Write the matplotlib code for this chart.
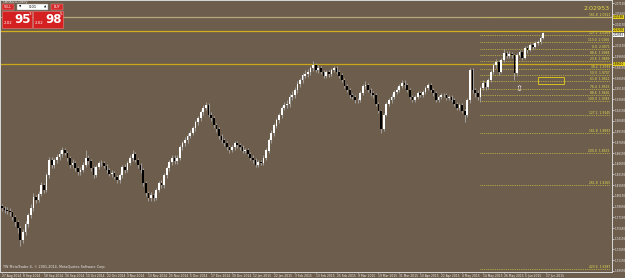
import matplotlib
matplotlib.use('Agg')
import numpy as np
from matplotlib import pyplot as plt
from matplotlib.patches import Rectangle

# GBPAUD daily, 27 Aug 2014 .. 16 Jun 2015 (open = previous close)
first_open = 1.7870
closes = [
    1.7845, 1.7820, 1.7800, 1.7789, 1.7720, 1.7649, 1.7560, 1.7397,
    1.7509, 1.7620, 1.7747, 1.7850, 1.7999, 1.7960, 1.8040,
    1.8167, 1.8100, 1.8300, 1.8517, 1.8450, 1.8517, 1.8560, 1.8600,
    1.8657, 1.8620, 1.8540, 1.8447, 1.8480, 1.8400, 1.8349, 1.8380, 1.8450,
    1.8545, 1.8500, 1.8400, 1.8307, 1.8420, 1.8480, 1.8475, 1.8430, 1.8380,
    1.8321, 1.8340, 1.8280, 1.8237, 1.8300, 1.8420, 1.8377, 1.8470, 1.8550,
    1.8600, 1.8520, 1.8450, 1.8380, 1.8200, 1.8050, 1.7985, 1.8030,
    1.7985, 1.8100, 1.8200, 1.8167, 1.8300, 1.8400, 1.8489, 1.8550, 1.8500,
    1.8545, 1.8700, 1.8750, 1.8797, 1.8850, 1.8900, 1.8965, 1.9050, 1.9100, 1.9189, 1.9250,
    1.9287, 1.9150, 1.9100, 1.9007, 1.8950, 1.8850, 1.8797, 1.8750, 1.8700, 1.8657, 1.8700, 1.8750,
    1.8727, 1.8700, 1.8650, 1.8657, 1.8600, 1.8550, 1.8517, 1.8450, 1.8489, 1.8475, 1.8550, 1.8650,
    1.8797, 1.8900, 1.9000, 1.9077, 1.9150, 1.9250, 1.9287, 1.9300, 1.9400, 1.9427, 1.9500, 1.9580,
    1.9637, 1.9700, 1.9720, 1.9749, 1.9800, 1.9847, 1.9780, 1.9805, 1.9750, 1.9700, 1.9749, 1.9720,
    1.9780, 1.9805, 1.9750, 1.9700, 1.9637, 1.9550, 1.9500, 1.9427, 1.9400, 1.9350, 1.9357, 1.9450,
    1.9550, 1.9567, 1.9500, 1.9450, 1.9427, 1.9300, 1.9200, 1.8950, 1.9150, 1.9300, 1.9357, 1.9400,
    1.9469, 1.9500, 1.9550, 1.9600, 1.9567, 1.9500, 1.9400, 1.9357, 1.9400, 1.9450, 1.9427, 1.9469,
    1.9520, 1.9567, 1.9500, 1.9450, 1.9357, 1.9400, 1.9430, 1.9427, 1.9380, 1.9400, 1.9357, 1.9300,
    1.9250, 1.9287, 1.9200, 1.9147, 1.9357, 1.9777, 1.9497, 1.9450, 1.9400, 1.9525, 1.9595, 1.9539,
    1.9637, 1.9749, 1.9847, 1.9889, 1.9749, 1.9917, 2.0015, 1.9973, 2.0000, 1.9987, 1.9735, 1.9987,
    2.0029, 1.9945, 2.0085, 2.0057, 2.0127, 2.0099, 2.0155, 2.0169, 2.0230, 2.0295,
]
highs = [
    1.790, 1.788, 1.786, 1.784, 1.781, 1.775, 1.768, 1.759,
    1.755, 1.766, 1.778, 1.790, 1.805, 1.803, 1.808,
    1.821, 1.820, 1.834, 1.856, 1.856, 1.855, 1.860, 1.866,
    1.870, 1.869, 1.865, 1.857, 1.853, 1.851, 1.843, 1.842, 1.849,
    1.866, 1.858, 1.853, 1.843, 1.845, 1.851, 1.852, 1.850, 1.846,
    1.841, 1.838, 1.837, 1.831, 1.834, 1.845, 1.846, 1.850, 1.859,
    1.866, 1.863, 1.855, 1.848, 1.840, 1.823, 1.809, 1.807,
    1.806, 1.813, 1.823, 1.824, 1.833, 1.843, 1.852, 1.859, 1.858,
    1.858, 1.873, 1.879, 1.884, 1.889, 1.894, 1.900, 1.908, 1.914, 1.922, 1.929,
    1.933, 1.931, 1.919, 1.913, 1.904, 1.898, 1.888, 1.883, 1.878, 1.873, 1.873, 1.879,
    1.879, 1.876, 1.873, 1.869, 1.868, 1.863, 1.858, 1.855, 1.852, 1.852, 1.858, 1.868,
    1.883, 1.894, 1.903, 1.911, 1.918, 1.928, 1.933, 1.935, 1.944, 1.948, 1.954, 1.962,
    1.967, 1.974, 1.977, 1.979, 1.984, 1.990, 1.988, 1.985, 1.984, 1.978, 1.978, 1.978,
    1.981, 1.984, 1.983, 1.978, 1.973, 1.967, 1.958, 1.953, 1.946, 1.943, 1.939, 1.948,
    1.958, 1.962, 1.959, 1.953, 1.948, 1.945, 1.933, 1.921, 1.918, 1.933, 1.939, 1.944,
    1.950, 1.954, 1.958, 1.963, 1.963, 1.959, 1.953, 1.943, 1.943, 1.948, 1.948, 1.950,
    1.955, 1.960, 1.959, 1.953, 1.948, 1.943, 1.946, 1.946, 1.945, 1.943, 1.943, 1.938,
    1.933, 1.932, 1.931, 1.923, 1.938, 1.981, 1.980, 1.953, 1.949, 1.955, 1.963, 1.962,
    1.966, 1.978, 1.988, 1.993, 1.991, 1.994, 2.0071, 2.004, 2.004, 2.003, 2.000, 2.001,
    2.006, 2.004, 2.011, 2.011, 2.015, 2.015, 2.018, 2.020, 2.026, 2.031,
]
lows = [
    1.781, 1.778, 1.776, 1.774, 1.768, 1.760, 1.750, 1.732,
    1.735, 1.747, 1.758, 1.771, 1.781, 1.792, 1.793,
    1.801, 1.806, 1.807, 1.827, 1.841, 1.841, 1.848, 1.852,
    1.856, 1.858, 1.851, 1.841, 1.841, 1.837, 1.831, 1.831, 1.835,
    1.842, 1.846, 1.836, 1.827, 1.828, 1.839, 1.843, 1.840, 1.834,
    1.829, 1.828, 1.825, 1.819, 1.820, 1.827, 1.834, 1.835, 1.844,
    1.851, 1.849, 1.841, 1.834, 1.816, 1.801, 1.795, 1.794,
    1.795, 1.796, 1.807, 1.812, 1.813, 1.826, 1.836, 1.845, 1.846,
    1.846, 1.852, 1.866, 1.871, 1.876, 1.882, 1.887, 1.893, 1.901, 1.906, 1.915,
    1.921, 1.912, 1.906, 1.897, 1.891, 1.881, 1.876, 1.871, 1.866, 1.862, 1.863, 1.866,
    1.869, 1.866, 1.862, 1.861, 1.857, 1.852, 1.848, 1.842, 1.842, 1.844, 1.845, 1.852,
    1.862, 1.876, 1.886, 1.896, 1.904, 1.911, 1.921, 1.924, 1.926, 1.936, 1.939, 1.946,
    1.954, 1.960, 1.966, 1.968, 1.971, 1.976, 1.975, 1.974, 1.972, 1.966, 1.967, 1.968,
    1.969, 1.975, 1.972, 1.966, 1.961, 1.952, 1.947, 1.939, 1.937, 1.932, 1.931, 1.933,
    1.943, 1.951, 1.947, 1.942, 1.939, 1.927, 1.917, 1.889, 1.893, 1.913, 1.927, 1.932,
    1.937, 1.944, 1.947, 1.952, 1.953, 1.947, 1.937, 1.933, 1.933, 1.937, 1.940, 1.940,
    1.944, 1.949, 1.947, 1.942, 1.933, 1.933, 1.937, 1.940, 1.935, 1.935, 1.933, 1.927,
    1.922, 1.922, 1.917, 1.905, 1.912, 1.931, 1.946, 1.940, 1.936, 1.9329, 1.949, 1.950,
    1.951, 1.961, 1.972, 1.981, 1.971, 1.973, 1.989, 1.994, 1.994, 1.995, 1.9637, 1.970,
    1.996, 1.991, 1.993, 2.002, 2.004, 2.007, 2.008, 2.012, 2.014, 2.021,
]
date_labels = [
    '27 Aug 2014', '8 Sep 2014', '18 Sep 2014', '30 Sep 2014', '10 Oct 2014',
    '22 Oct 2014', '3 Nov 2014', '13 Nov 2014', '25 Nov 2014', '5 Dec 2014',
    '17 Dec 2014', '30 Dec 2014', '12 Jan 2015', '22 Jan 2015', '3 Feb 2015',
    '13 Feb 2015', '25 Feb 2015', '9 Mar 2015', '19 Mar 2015', '31 Mar 2015',
    '10 Apr 2015', '22 Apr 2015', '4 May 2015', '14 May 2015', '26 May 2015',
    '5 Jun 2015', '17 Jun 2015',
]
bid, ask = 2.02953, 2.02985
hlines = [2.0519, 2.0323, 1.9861]
hline_colors = ['#b7a77c', '#d0b020', '#c8a818']
fib_high, fib_low = 2.0071, 1.9343
fib_down = [0.0, 23.6, 38.2, 50.0, 61.8, 76.4, 88.6, 100.0, 127.2, 161.8, 200.0, 261.8, 423.6]
fib_up = [88.6, 113.0, 127.2, 161.8]

BG = '#6d5d4c'
W, H = 625, 278
fig = plt.figure(figsize=(W / 100, H / 100), dpi=100)
fig.patch.set_facecolor(BG)
ax = fig.add_axes([0, 6 / H, 612 / W, 1 - 6 / H])
ax.set_facecolor(BG)

n = len(closes)
x = np.arange(n)
opens = np.array([first_open] + closes[:-1])
c = np.array(closes)
ax.vlines(x, lows, highs, color='#a8a8a8', lw=0.6, zorder=2)
up = c >= opens
bottom = np.minimum(opens, c)
height = np.maximum(np.abs(c - opens), 0.0005)
ax.bar(x[up], height[up], bottom=bottom[up], width=0.66, color='white', lw=0, zorder=3)
ax.bar(x[~up], height[~up], bottom=bottom[~up], width=0.66, color='black', lw=0, zorder=3)

ax.set_xlim(-0.77, 233.35)
ax.set_ylim(1.6949, 2.0757)

for p, col in zip(hlines, hline_colors):
    ax.axhline(p, color=col, lw=0.9, zorder=1)

# fibonacci levels
fx0, fx1 = 183, 232.5
rng = fib_high - fib_low
for lv in fib_down:
    p = fib_high - lv / 100 * rng
    ax.plot([fx0, fx1], [p, p], ls=(0, (1, 1.2)), color='#c8c040', lw=0.6, zorder=1)
    ax.text(fx1, p, f'{lv:.1f}  {p:.4f}', color='#e6e050', fontsize=2.2, ha='right', va='bottom')
for lv in fib_up:
    p = fib_low + lv / 100 * rng
    ax.plot([fx0, fx1], [p, p], ls=(0, (1, 1.2)), color='#c8c040', lw=0.6, zorder=1)
    ax.text(fx1, p, f'{lv:.1f}  {p:.4f}', color='#e6e050', fontsize=2.2, ha='right', va='bottom')

ax.add_patch(Rectangle((205, 1.9581), 10, 0.0098, fill=False, ec='#d8c020', lw=0.7))
ax.text(197.6, 1.9515, '\u21e7', color='white', fontsize=6, ha='center', va='center')

# axes
ax.yaxis.tick_right()
yt = np.arange(1.6965, 2.075, 0.015)
ax.set_yticks(yt, [f'{v:.5f}' for v in yt])
ax.tick_params(axis='y', labelsize=2.0, colors='#e8e8e8', length=1.2, width=0.5, pad=0.5)
ax.set_xticks(np.arange(len(date_labels)) * 8, date_labels)
ax.tick_params(axis='x', labelsize=2.2, colors='#e8e8e8', length=1.0, width=0.5, pad=0.2)
for lab in ax.get_xticklabels():
    lab.set_ha('left')
for s in ax.spines.values():
    s.set_color('#d8d8d8')
    s.set_linewidth(0.7)

# axis price markers (yellow line prices, white current bid)
for p, col, dy in [(2.0519, '#e8d020', 0), (2.0323, '#e8d020', 0.9),
                   (bid, 'white', -1.3), (1.9861, '#e8d020', 0)]:
    ax.annotate(f'{p:.5f}', xy=(1, p), xycoords=('axes fraction', 'data'), xytext=(0.8, dy),
                textcoords='offset points', fontsize=2.0, color='black', va='center', ha='left',
                bbox=dict(boxstyle='square,pad=0.05', fc=col, ec='none'))


def px_rect(x0, y0, w, h, **kw):
    fig.add_artist(Rectangle((x0 / W, 1 - (y0 + h) / H), w / W, h / H,
                             transform=fig.transFigure, **kw))


def px_text(x0, y0, s, **kw):
    fig.text(x0 / W, 1 - y0 / H, s, **kw)


px_text(3, 2, 'GBPAUD,Daily', fontsize=2.6, color='#e8e8e8', va='center')
px_text(610, 8, f'{bid:.5f}', fontsize=4.6, color='#e8d84a', ha='right', va='center')
px_text(3, 267, 'TW MetaTrader 4, \u00a9 2001-2014, MetaQuotes Software Corp.',
        fontsize=2.4, color='#e8e8e8', va='center')

# one click trading panel
px_rect(2, 4, 12, 6, fc='#d42a2a', ec='#f0a0a0', lw=0.3)
px_text(8, 7, 'SELL', fontsize=2.3, color='white', ha='center', va='center')
px_rect(51, 4, 12, 6, fc='#d42a2a', ec='#f0a0a0', lw=0.3)
px_text(57, 7, 'BUY', fontsize=2.3, color='white', ha='center', va='center')
px_rect(17, 4, 31, 6, fc='white', ec='#909090', lw=0.3)
px_text(20, 7, '\u25bc', fontsize=2.2, color='black', ha='center', va='center')
px_text(45, 7, '\u25b2', fontsize=2.2, color='black', ha='center', va='center')
px_text(33, 7, '0.01', fontsize=2.6, color='black', ha='center', va='center')
for bx, price in [(2, bid), (33, ask)]:
    px_rect(bx, 11, 30, 17, fc='#d42020', ec='#f08080', lw=0.4)
    s = f'{price:.5f}'
    px_text(bx + 2, 23, s[:4], fontsize=2.8, color='white', va='center')
    px_text(bx + 12, 19.5, s[4:6], fontsize=8.5, color='white', va='center', fontweight='bold')
    px_text(bx + 27, 14, s[6], fontsize=3, color='white', va='center')

fig.savefig('out.png', dpi=100, facecolor=BG)
